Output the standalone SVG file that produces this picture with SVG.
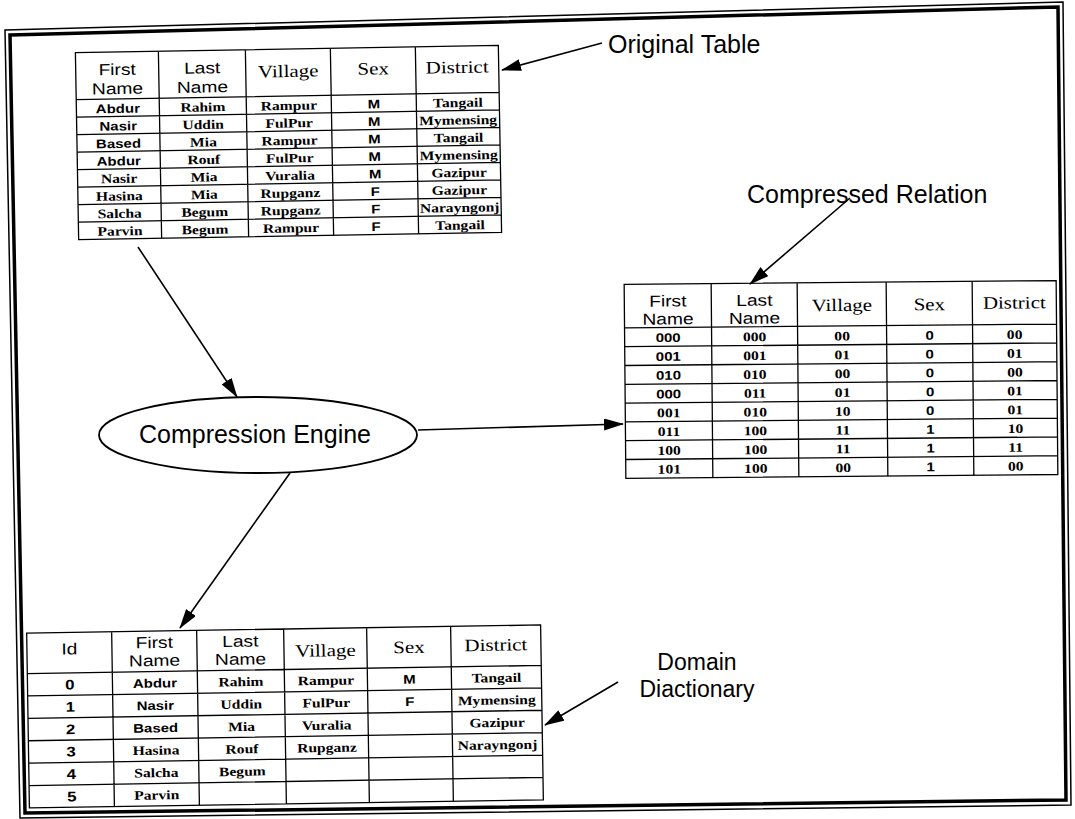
<svg xmlns="http://www.w3.org/2000/svg" width="1075" height="819" viewBox="0 0 1075 819">
<defs>
<style>
.bg{fill:#fff}
.frame-o{fill:none;stroke:#000;stroke-width:1.5}
.frame-i{fill:none;stroke:#000;stroke-width:3.5}
.grid{fill:none;stroke:#000;stroke-width:1.3}
text{fill:#000;text-anchor:middle}
.ha{font-family:"Liberation Sans",Arial,sans-serif;font-size:16px}
.ht{font-family:"Liberation Serif","Times New Roman",serif;font-size:17.5px}
.da{font-family:"Liberation Sans",Arial,sans-serif;font-size:12.5px;font-weight:bold}
.dt{font-family:"Liberation Serif","Times New Roman",serif;font-size:13px;font-weight:bold}
.di{font-family:"Liberation Sans",Arial,sans-serif;font-size:14px;font-weight:bold}
.lbl{font-family:"Liberation Sans",Arial,sans-serif;font-size:25px}
.lbl-d{font-family:"Liberation Sans",Arial,sans-serif;font-size:23px}
.lbl-s{text-anchor:start}
.conn{fill:none;stroke:#000;stroke-width:1.6}
.node{fill:#fff;stroke:#000;stroke-width:1.8}
</style>
<marker id="ah" markerUnits="userSpaceOnUse" markerWidth="20" markerHeight="12" refX="19" refY="6" orient="auto">
<path d="M0,0 L20,6 L0,12 Z" fill="#000"/>
</marker>
</defs>
<rect class="bg" x="0" y="0" width="1075" height="819"/>
<g id="frame">
<polygon class="frame-o" points="5,30 1063,2 1071,805 20,818"/>
<polygon class="frame-i" points="10,35 1058,7 1066,800 25,813"/>
</g>

<g id="original-table" transform="rotate(-1 288 143)">
<path class="grid" d="M77,49 H500 V236 H77 Z M77,96 H500 M77,113.5 H500 M77,131 H500 M77,148.5 H500 M77,166 H500 M77,183.5 H500 M77,201 H500 M77,218.5 H500 M160,49 V236 M247,49 V236 M332,49 V236 M417,49 V236"/>
<g transform="matrix(1.2 0 0 1 0 0)">
<text class="ha" x="98.75" y="72">First</text>
<text class="ha" x="98.75" y="91">Name</text>
<text class="ha" x="169.58" y="72">Last</text>
<text class="ha" x="169.58" y="91">Name</text>
<text class="ht" x="241.25" y="77">Village</text>
<text class="ht" x="312.08" y="76">Sex</text>
<text class="ht" x="382.08" y="76">District</text>

<text class="da" x="98.75" y="110">Abdur</text>
<text class="da" x="98.75" y="127.5">Nasir</text>
<text class="da" x="98.75" y="145">Based</text>
<text class="da" x="98.75" y="162.5">Abdur</text>
<text class="dt" x="98.75" y="180">Nasir</text>
<text class="dt" x="98.75" y="197.5">Hasina</text>
<text class="dt" x="98.75" y="215">Salcha</text>
<text class="dt" x="98.75" y="232.5">Parvin</text>

<text class="dt" x="169.58" y="110">Rahim</text>
<text class="dt" x="169.58" y="127.5">Uddin</text>
<text class="dt" x="169.58" y="145">Mia</text>
<text class="dt" x="169.58" y="162.5">Rouf</text>
<text class="dt" x="169.58" y="180">Mia</text>
<text class="dt" x="169.58" y="197.5">Mia</text>
<text class="dt" x="169.58" y="215">Begum</text>
<text class="dt" x="169.58" y="232.5">Begum</text>

<text class="dt" x="241.25" y="110">Rampur</text>
<text class="dt" x="241.25" y="127.5">FulPur</text>
<text class="dt" x="241.25" y="145">Rampur</text>
<text class="dt" x="241.25" y="162.5">FulPur</text>
<text class="dt" x="241.25" y="180">Vuralia</text>
<text class="dt" x="241.25" y="197.5">Rupganz</text>
<text class="dt" x="241.25" y="215">Rupganz</text>
<text class="dt" x="241.25" y="232.5">Rampur</text>

<text class="da" x="312.08" y="110">M</text>
<text class="da" x="312.08" y="127.5">M</text>
<text class="da" x="312.08" y="145">M</text>
<text class="da" x="312.08" y="162.5">M</text>
<text class="da" x="312.08" y="180">M</text>
<text class="da" x="312.08" y="197.5">F</text>
<text class="da" x="312.08" y="215">F</text>
<text class="da" x="312.08" y="232.5">F</text>

<text class="dt" x="382.08" y="110">Tangail</text>
<text class="dt" x="382.08" y="127.5">Mymensing</text>
<text class="dt" x="382.08" y="145">Tangail</text>
<text class="dt" x="382.08" y="162.5">Mymensing</text>
<text class="dt" x="382.08" y="180">Gazipur</text>
<text class="dt" x="382.08" y="197.5">Gazipur</text>
<text class="dt" x="382.08" y="215">Narayngonj</text>
<text class="dt" x="382.08" y="232.5">Tangail</text>
</g>
</g>

<g id="compressed-table" transform="rotate(-0.5 841 380)">
<path class="grid" d="M625,282.5 H1057 V476.4 H625 Z M625,326 H1057 M625,344.8 H1057 M625,363.6 H1057 M625,382.4 H1057 M625,401.2 H1057 M625,420 H1057 M625,438.8 H1057 M625,457.6 H1057 M712,282.5 V476.4 M798,282.5 V476.4 M887,282.5 V476.4 M973,282.5 V476.4"/>
<g transform="matrix(1.2 0 0 1 0 0)">
<text class="ha" x="557.08" y="305">First</text>
<text class="ha" x="557.08" y="323">Name</text>
<text class="ha" x="629.17" y="305">Last</text>
<text class="ha" x="629.17" y="323">Name</text>
<text class="ht" x="702.08" y="311">Village</text>
<text class="ht" x="775" y="311">Sex</text>
<text class="ht" x="845.83" y="310">District</text>

<text class="da" x="557.08" y="340.5">000</text>
<text class="da" x="557.08" y="359.3">001</text>
<text class="da" x="557.08" y="378.1">010</text>
<text class="da" x="557.08" y="396.9">000</text>
<text class="dt" x="557.08" y="415.7">001</text>
<text class="dt" x="557.08" y="434.5">011</text>
<text class="dt" x="557.08" y="453.3">100</text>
<text class="dt" x="557.08" y="472.1">101</text>

<text class="dt" x="629.17" y="340.5">000</text>
<text class="dt" x="629.17" y="359.3">001</text>
<text class="dt" x="629.17" y="378.1">010</text>
<text class="dt" x="629.17" y="396.9">011</text>
<text class="dt" x="629.17" y="415.7">010</text>
<text class="dt" x="629.17" y="434.5">100</text>
<text class="dt" x="629.17" y="453.3">100</text>
<text class="dt" x="629.17" y="472.1">100</text>

<text class="dt" x="702.08" y="340.5">00</text>
<text class="dt" x="702.08" y="359.3">01</text>
<text class="dt" x="702.08" y="378.1">00</text>
<text class="dt" x="702.08" y="396.9">01</text>
<text class="dt" x="702.08" y="415.7">10</text>
<text class="dt" x="702.08" y="434.5">11</text>
<text class="dt" x="702.08" y="453.3">11</text>
<text class="dt" x="702.08" y="472.1">00</text>

<text class="da" x="775" y="340.5">0</text>
<text class="da" x="775" y="359.3">0</text>
<text class="da" x="775" y="378.1">0</text>
<text class="da" x="775" y="396.9">0</text>
<text class="da" x="775" y="415.7">0</text>
<text class="da" x="775" y="434.5">1</text>
<text class="da" x="775" y="453.3">1</text>
<text class="da" x="775" y="472.1">1</text>

<text class="dt" x="845.83" y="340.5">00</text>
<text class="dt" x="845.83" y="359.3">01</text>
<text class="dt" x="845.83" y="378.1">00</text>
<text class="dt" x="845.83" y="396.9">01</text>
<text class="dt" x="845.83" y="415.7">01</text>
<text class="dt" x="845.83" y="434.5">10</text>
<text class="dt" x="845.83" y="453.3">11</text>
<text class="dt" x="845.83" y="472.1">00</text>
</g>
</g>

<g id="domain-table" transform="rotate(-0.9 285 716)">
<path class="grid" d="M28,629 H542 V803.9 H28 Z M28,669.5 H542 M28,691.9 H542 M28,714.3 H542 M28,736.7 H542 M28,759.1 H542 M28,781.5 H542 M113,629 V803.9 M198,629 V803.9 M285,629 V803.9 M368,629 V803.9 M452,629 V803.9"/>
<g transform="matrix(1.2 0 0 1 0 0)">
<text class="ha" x="58.75" y="651">Id</text>
<text class="ha" x="129.58" y="646">First</text>
<text class="ha" x="129.58" y="664">Name</text>
<text class="ha" x="201.25" y="646">Last</text>
<text class="ha" x="201.25" y="664">Name</text>
<text class="ht" x="272.08" y="657">Village</text>
<text class="ht" x="341.67" y="655">Sex</text>
<text class="ht" x="414.17" y="654">District</text>

<text class="di" x="58.75" y="686">0</text>
<text class="di" x="58.75" y="708.4">1</text>
<text class="di" x="58.75" y="730.8">2</text>
<text class="di" x="58.75" y="753.2">3</text>
<text class="di" x="58.75" y="775.6">4</text>
<text class="di" x="58.75" y="798">5</text>

<text class="da" x="129.58" y="685.5">Abdur</text>
<text class="da" x="129.58" y="707.9">Nasir</text>
<text class="da" x="129.58" y="730.3">Based</text>
<text class="dt" x="129.58" y="752.7">Hasina</text>
<text class="dt" x="129.58" y="775.1">Salcha</text>
<text class="dt" x="129.58" y="797.5">Parvin</text>

<text class="dt" x="201.25" y="685.5">Rahim</text>
<text class="dt" x="201.25" y="707.9">Uddin</text>
<text class="dt" x="201.25" y="730.3">Mia</text>
<text class="dt" x="201.25" y="752.7">Rouf</text>
<text class="dt" x="201.25" y="775.1">Begum</text>

<text class="dt" x="272.08" y="685.5">Rampur</text>
<text class="dt" x="272.08" y="707.9">FulPur</text>
<text class="dt" x="272.08" y="730.3">Vuralia</text>
<text class="dt" x="272.08" y="752.7">Rupganz</text>

<text class="da" x="341.67" y="685.5">M</text>
<text class="da" x="341.67" y="707.9">F</text>

<text class="dt" x="414.17" y="685.5">Tangail</text>
<text class="dt" x="414.17" y="707.9">Mymensing</text>
<text class="dt" x="414.17" y="730.3">Gazipur</text>
<text class="dt" x="414.17" y="752.7">Narayngonj</text>
</g>
</g>

<g id="compression-engine">
<ellipse class="node" cx="258" cy="435" rx="159" ry="38"/>
<text class="lbl" x="255" y="443">Compression Engine</text>
</g>

<g id="label-original">
<text class="lbl lbl-s" x="608" y="53">Original Table</text>
</g>
<g id="label-compressed">
<text class="lbl lbl-s" x="747" y="203">Compressed Relation</text>
</g>
<g id="label-domain">
<text class="lbl-d" x="697" y="670">Domain</text>
<text class="lbl-d" x="697" y="697">Diactionary</text>
</g>

<g id="connectors">
<line class="conn" x1="602" y1="43" x2="502" y2="70" marker-end="url(#ah)"/>
<line class="conn" x1="850" y1="198" x2="750" y2="284" marker-end="url(#ah)"/>
<line class="conn" x1="618" y1="682" x2="545" y2="725" marker-end="url(#ah)"/>
<line class="conn" x1="138" y1="247" x2="237" y2="397" marker-end="url(#ah)"/>
<line class="conn" x1="418" y1="430" x2="623" y2="424" marker-end="url(#ah)"/>
<line class="conn" x1="290" y1="473" x2="180" y2="628" marker-end="url(#ah)"/>
</g>
</svg>
